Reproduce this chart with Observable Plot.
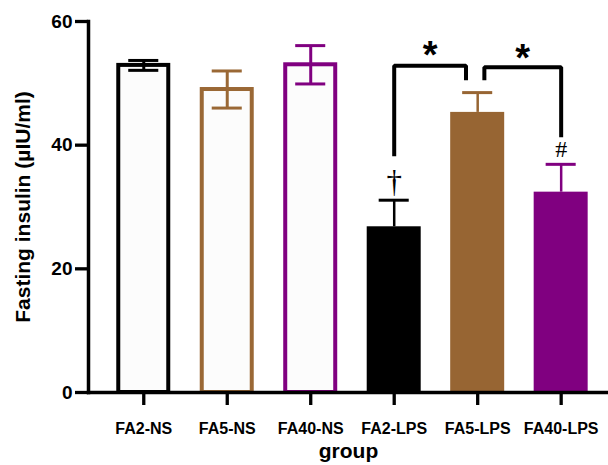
<!DOCTYPE html>
<html><head><meta charset="utf-8">
<script src="https://cdn.jsdelivr.net/npm/d3@7"></script>
<script src="https://cdn.jsdelivr.net/npm/@observablehq/plot@0.6"></script>
<style>body{margin:0;background:#fff} svg{display:block}</style>
</head><body><div id="chart"></div>
<script>
const groups = ["FA2-NS", "FA5-NS", "FA40-NS", "FA2-LPS", "FA5-LPS", "FA40-LPS"];
const means = [52.9, 49.0, 53.0, 26.8, 45.3, 32.4];
const sems = [0.8, 3.0, 3.1, 4.3, 3.2, 4.5];
const colors = ["#000000", "#9a6835", "#800080", "#000000", "#976533", "#800080"];
const filled = [false, false, false, true, true, true];
const yTicks = [0, 20, 40, 60];
// significance brackets (x in group-index units, y in data units)
const bracketLeft = [3, 4.08];
const bracketRight = [3.86, 5];
const bracketLeftFoot = [38.2, 50.5];
const bracketRightFoot = [50.5, 41.3];
const bracketTop = [52.85, 52.6];
const starY = [54.4, 54.0];
// other annotations
const symbolGroup = [3, 5];
const symbolY = [34.0, 39.3];
const symbolText = ["†", "#"];
const symbolSize = [31, 24];

const halfBar = 0.3234, halfCap = 0.18;
const data = groups.map((g, i) => ({i, g, m: means[i], s: sems[i], c: colors[i], f: filled[i]}));
const outline = data.filter(d => !d.f), solid = data.filter(d => d.f);
const bracketPts = [];
bracketLeft.forEach((x1, k) => {
  bracketPts.push({k, x: x1, y: bracketLeftFoot[k]}, {k, x: x1, y: bracketTop[k]},
                  {k, x: bracketRight[k], y: bracketTop[k]}, {k, x: bracketRight[k], y: bracketRightFoot[k]});
});
const stars = bracketLeft.map((x1, k) => ({x: (x1 + bracketRight[k]) / 2, y: starY[k]}));
const symbols = symbolGroup.map((x, k) => ({x, y: symbolY[k], t: symbolText[k], s: symbolSize[k]}));

const font = "'Liberation Sans', Arial, sans-serif";
const chart = Plot.plot({
  width: 608, height: 465,
  marginLeft: 88, marginRight: 0, marginTop: 21, marginBottom: 73,
  style: {fontFamily: font, color: "black", background: "white"},
  x: {type: "linear", domain: [-0.662, 5.567]},
  y: {domain: [0, 60]},
  marks: [
    Plot.rectY(outline, {x1: d => d.i - halfBar, x2: d => d.i + halfBar, y1: 0, y2: "m", fill: "#fcfcfc", stroke: "c", strokeWidth: 4, insetLeft: 2, insetRight: 2}),
    Plot.rectY(solid, {x1: d => d.i - halfBar, x2: d => d.i + halfBar, y1: 0, y2: "m", fill: "c"}),
    Plot.ruleX(outline, {x: "i", y1: d => d.m - d.s, y2: d => d.m + d.s, stroke: "c", strokeWidth: 3}),
    Plot.ruleY(outline, {y: d => d.m - d.s, x1: d => d.i - halfCap, x2: d => d.i + halfCap, stroke: "c", strokeWidth: 3}),
    Plot.ruleY(outline, {y: d => d.m + d.s, x1: d => d.i - halfCap, x2: d => d.i + halfCap, stroke: "c", strokeWidth: 3}),
    Plot.ruleX(solid, {x: "i", y1: "m", y2: d => d.m + d.s, stroke: "c", strokeWidth: 2.5}),
    Plot.ruleY(solid, {y: d => d.m + d.s, x1: d => d.i - halfCap, x2: d => d.i + halfCap, stroke: "c", strokeWidth: 3}),
    Plot.line(bracketPts, {x: "x", y: "y", z: "k", stroke: "black", strokeWidth: 4, strokeLinejoin: "miter", strokeLinecap: "butt"}),
    Plot.text(stars, {x: "x", y: "y", text: () => "*", fontSize: 38, fontWeight: "bold", fill: "black"}),
    Plot.text(symbols, {x: "x", y: "y", text: "t", fontSize: "s", fontFamily: "'Liberation Serif', 'Times New Roman', serif", fill: "black"}),
    Plot.frame({anchor: "left", stroke: "black", strokeWidth: 3.5}),
    Plot.frame({anchor: "bottom", stroke: "black", strokeWidth: 3.3}),
    Plot.axisY({ticks: yTicks, tickSize: 13, tickPadding: 3, strokeWidth: 3.3, fontSize: 19, fontWeight: "bold", label: null}),
    Plot.axisX({ticks: groups.map((g, i) => i), tickFormat: i => groups[i], tickSize: 13, tickPadding: 17, strokeWidth: 3.3, fontSize: 16, fontWeight: "bold", label: null}),
    Plot.text(["Fasting insulin (µIU/ml)"], {frameAnchor: "left", textAnchor: "middle", dx: -65, rotate: -90, fontSize: 21, fontWeight: "bold", fill: "black"}),
    Plot.text(["group"], {frameAnchor: "bottom", textAnchor: "middle", dy: 65, fontSize: 21, fontWeight: "bold", fill: "black"})
  ]
});
document.getElementById("chart").append(chart);
</script></body></html>
